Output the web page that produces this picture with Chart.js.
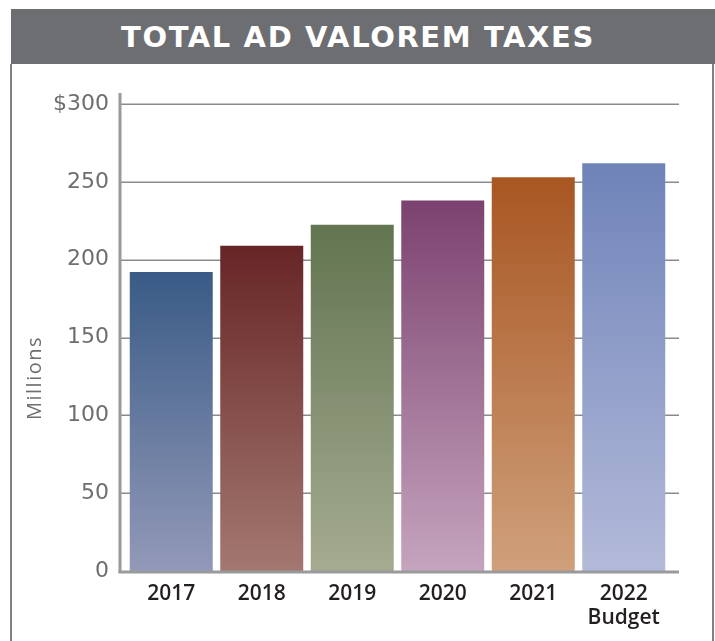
<!DOCTYPE html>
<html>
<head>
<meta charset="utf-8">
<script src="https://cdn.jsdelivr.net/npm/chart.js@4.4.1/dist/chart.umd.min.js"></script>
<style>
  html, body { margin: 0; padding: 0; background: #fff; width: 715px; height: 641px; overflow: hidden; }
  #banner { position: absolute; left: 11px; top: 9px; width: 704px; height: 55px; background: #6d6e71;
            color: #fff; font-family: "DejaVu Sans", sans-serif; font-weight: 700; font-size: 29px;
            line-height: 56px; text-align: center; box-sizing: border-box; padding-right: 10px; letter-spacing: 1.6px; }
  #frame { position: absolute; left: 10px; top: 64px; width: 700px; height: 600px;
           border-left: 2px solid #808184; border-right: 2px solid #808184; }
  #wrap { position: absolute; left: 0; top: 0; width: 715px; height: 641px; }
</style>
</head>
<body>
<div id="frame"></div>
<div id="banner">TOTAL AD VALOREM TAXES</div>
<div id="wrap"><canvas id="c" width="715" height="641"></canvas></div>
<script>
const categories = [['2017'], ['2018'], ['2019'], ['2020'], ['2021'], ['2022', 'Budget']];
const values = [192, 209, 222.5, 238, 253, 262];
const yTicks = [0, 50, 100, 150, 200, 250, 300];
const topColors = ['#395b86', '#672526', '#627450', '#7c426f', '#a85622', '#6f83b9'];
const bottomColors = ['#9399b8', '#a37870', '#a5ab91', '#c5a4be', '#cfa07b', '#b3bad9'];
const yTitle = 'Millions';

function barGradient(ctx) {
  const chart = ctx.chart;
  const i = ctx.dataIndex;
  const ys = chart.scales.y;
  if (!chart.chartArea || !ys || ys.top === undefined || isNaN(ys.getPixelForValue(0))) return topColors[i];
  const yTop = ys.getPixelForValue(values[i]);
  const yBot = ys.getPixelForValue(0);
  const g = chart.ctx.createLinearGradient(0, yTop, 0, yBot);
  g.addColorStop(0, topColors[i]);
  g.addColorStop(1, bottomColors[i]);
  return g;
}

const axesPlugin = {
  id: 'axesPlugin',
  beforeDatasetsDraw(chart) {
    const { ctx, chartArea, scales } = chart;
    const l = chartArea.left - 6, r = chartArea.right + 10;
    ctx.save();
    ctx.strokeStyle = '#8a8b8d';
    ctx.lineWidth = 1.5;
    yTicks.forEach(v => {
      if (v === 0) return;
      const y = Math.round(scales.y.getPixelForValue(v)) + 0.25;
      ctx.beginPath(); ctx.moveTo(l, y); ctx.lineTo(r, y); ctx.stroke();
    });
    ctx.restore();
  },
  afterDatasetsDraw(chart) {
    const { ctx, chartArea, scales } = chart;
    const l = chartArea.left - 6, r = chartArea.right + 10;
    const y0 = scales.y.getPixelForValue(0);
    ctx.save();
    ctx.strokeStyle = '#999a9c';
    ctx.lineWidth = 3;
    ctx.beginPath(); ctx.moveTo(l, chartArea.top - 11); ctx.lineTo(l, y0 + 2); ctx.stroke();
    ctx.beginPath(); ctx.moveTo(l - 1.5, y0 + 1); ctx.lineTo(r, y0 + 1); ctx.stroke();
    ctx.restore();
    ctx.save();
    ctx.fillStyle = '#6d6e71';
    ctx.font = '20px "Open Sans", sans-serif';
    if ('letterSpacing' in ctx) ctx.letterSpacing = '1.5px';
    ctx.textAlign = 'center';
    ctx.textBaseline = 'middle';
    ctx.translate(35, 378);
    ctx.rotate(-Math.PI / 2);
    ctx.fillText(yTitle, 0, 0);
    if ('letterSpacing' in ctx) ctx.letterSpacing = '0px';
    ctx.restore();
  }
};

new Chart(document.getElementById('c'), {
  type: 'bar',
  data: {
    labels: categories,
    datasets: [{
      data: values,
      backgroundColor: barGradient,
      borderWidth: 0,
      categoryPercentage: 1,
      barPercentage: 0.917
    }]
  },
  options: {
    responsive: false,
    animation: false,
    layout: { padding: { left: 0, right: 46, top: 104, bottom: 0 } },
    plugins: { legend: { display: false }, tooltip: { enabled: false }, title: { display: false } },
    scales: {
      x: {
        grid: { display: false, drawTicks: false },
        border: { display: false },
        ticks: {
          color: '#231f20',
          font: { family: '"Open Sans", sans-serif', size: 21, weight: 600, lineHeight: 1.15 },
          padding: 11,
          maxRotation: 0,
          autoSkip: false
        },
        afterFit(s) { s.height = 70; }
      },
      y: {
        min: 0, max: 300,
        afterBuildTicks(s) { s.ticks = yTicks.map(v => ({ value: v })); },
        grid: { display: false, drawTicks: false },
        border: { display: false },
        ticks: {
          color: '#6d6e71',
          font: { family: '"DejaVu Sans", sans-serif', size: 22, weight: 'normal' },
          padding: 17,
          callback: v => v === 300 ? '$300' : String(v)
        },
        afterFit(s) { s.width = 126; }
      }
    }
  },
  plugins: [axesPlugin]
});
</script>
</body>
</html>
